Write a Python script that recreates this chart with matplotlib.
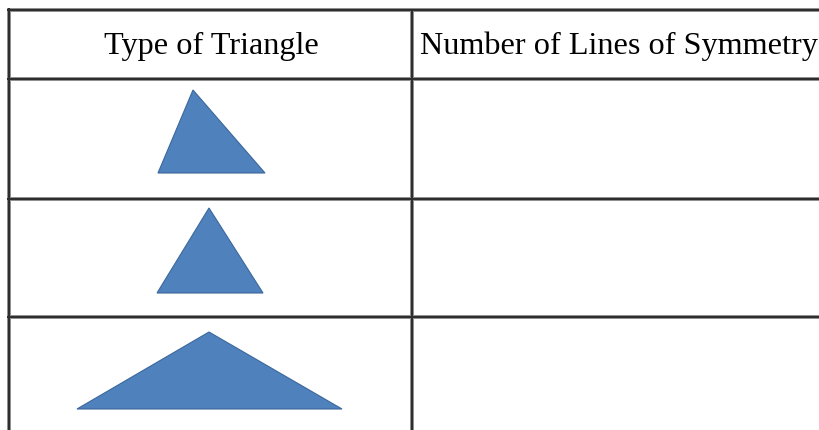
import matplotlib
matplotlib.use("Agg")
import matplotlib.pyplot as plt
from matplotlib.patches import Polygon

# Table content
headers = ["Type of Triangle", "Number of Lines of Symmetry"]
row_types = ["scalene", "equilateral", "isosceles"]
# triangle vertices (apex, bottom-left, bottom-right) in pixel coordinates
tri_apex_x = [193, 209, 209]
tri_apex_y = [90, 208, 332]
tri_left_x = [158, 157, 77]
tri_right_x = [265, 263, 342]
tri_base_y = [173, 293, 409]

# grid lines
h_lines = [9.5, 79, 198.5, 316.5]
v_lines = [9.5, 412.5]

W, H = 820, 430
fig = plt.figure(figsize=(W / 100, H / 100), dpi=100)
ax = fig.add_axes([0, 0, 1, 1])
ax.set_xlim(0, W)
ax.set_ylim(H, 0)
ax.axis("off")

def hline(y, x0, x1):
    ax.plot([x0, x1], [y, y], color="#909090", lw=4.0 * 72 / 100, solid_capstyle="butt", zorder=2)
    ax.plot([x0, x1], [y, y], color="#2e2e2e", lw=2.0 * 72 / 100, solid_capstyle="butt", zorder=3)

def vline(x, y0, y1):
    ax.plot([x, x], [y0, y1], color="#909090", lw=4.0 * 72 / 100, solid_capstyle="butt", zorder=2)
    ax.plot([x, x], [y0, y1], color="#2e2e2e", lw=2.0 * 72 / 100, solid_capstyle="butt", zorder=3)

for y in h_lines:
    hline(y, v_lines[0] - 2, W)
for x in v_lines:
    vline(x, h_lines[0] - 2 if x == v_lines[0] else h_lines[0], H)

# header text
font = dict(family=["Liberation Serif", "DejaVu Serif"], size=23.2, color="black")
ax.text((v_lines[0] + v_lines[1]) / 2, 54, headers[0], ha="center", va="baseline", **font)
ax.text(420, 54, headers[1], ha="left", va="baseline", **font)

for i in range(len(row_types)):
    pts = [(tri_apex_x[i], tri_apex_y[i]),
           (tri_left_x[i], tri_base_y[i]),
           (tri_right_x[i], tri_base_y[i])]
    ax.add_patch(Polygon(pts, closed=True, facecolor="#4f81bd",
                         edgecolor="#3b679c", lw=0.8, zorder=4))

fig.savefig("out.png", dpi=100, facecolor="white")
